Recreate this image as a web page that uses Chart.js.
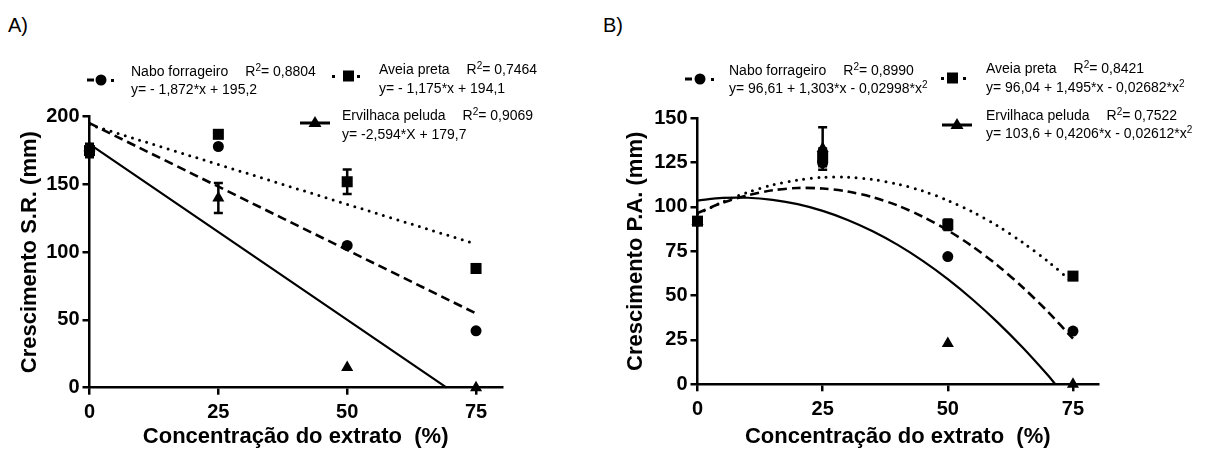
<!DOCTYPE html>
<html>
<head>
<meta charset="utf-8">
<script src="https://cdn.jsdelivr.net/npm/chart.js@4.4.1/dist/chart.umd.min.js"></script>
<style>
  body { margin: 0; background: #fff; width: 1205px; height: 450px; overflow: hidden; position: relative;
         font-family: "Liberation Sans", Arial, sans-serif; color: #000; }
  .panel { position: absolute; top: 0; height: 450px; }
  .tag { position: absolute; top: 14px; font-size: 20px; }
  .leg { position: absolute; font-size: 14px; line-height: 18px; white-space: nowrap; }
  .leg sup { font-size: 10px; line-height: 0; vertical-align: 5px; }
  .leg .r2 { margin-left: 17px; }
  svg.sym { position: absolute; overflow: visible; }
</style>
</head>
<body>

<div class="tag" style="left:8px">A)</div>
<div class="tag" style="left:603px">B)</div>

<div class="panel" style="left:0;width:600px"><canvas id="chartA"></canvas></div>
<div class="panel" style="left:600px;width:605px"><canvas id="chartB"></canvas></div>

<!-- legend A -->
<svg class="sym" style="left:85px;top:72px" width="32" height="16">
  <rect x="2" y="6.5" width="7" height="3"/><circle cx="16" cy="8" r="5.5"/><rect x="26" y="7" width="3" height="3"/>
</svg>
<div class="leg" style="left:131px;top:62px">Nabo forrageiro<span class="r2">R<sup>2</sup>= 0,8804</span></div>
<div class="leg" style="left:131px;top:80px">y= - 1,872*x + 195,2</div>

<svg class="sym" style="left:330px;top:68px" width="32" height="16">
  <rect x="2" y="7" width="3" height="3"/><rect x="13" y="2.5" width="11" height="11"/><rect x="27" y="7" width="3" height="3"/>
</svg>
<div class="leg" style="left:379px;top:60px">Aveia preta<span class="r2">R<sup>2</sup>= 0,7464</span></div>
<div class="leg" style="left:379px;top:79px">y= - 1,175*x + 194,1</div>

<svg class="sym" style="left:300px;top:115px" width="32" height="16">
  <rect x="0" y="6.5" width="30" height="3"/><polygon points="15,1 21.5,12 8.5,12"/>
</svg>
<div class="leg" style="left:342px;top:106px">Ervilhaca peluda<span class="r2">R<sup>2</sup>= 0,9069</span></div>
<div class="leg" style="left:342px;top:125px">y= -2,594*X + 179,7</div>

<!-- legend B -->
<svg class="sym" style="left:683px;top:71px" width="32" height="16">
  <rect x="2" y="6.5" width="7" height="3"/><circle cx="17" cy="8" r="5.5"/><rect x="28" y="7" width="3" height="3"/>
</svg>
<div class="leg" style="left:729px;top:61px">Nabo forrageiro<span class="r2">R<sup>2</sup>= 0,8990</span></div>
<div class="leg" style="left:729px;top:79px">y= 96,61 + 1,303*x - 0,02998*x<sup>2</sup></div>

<svg class="sym" style="left:939px;top:70px" width="32" height="16">
  <rect x="2" y="7" width="3" height="3"/><rect x="8" y="2.5" width="11" height="11"/><rect x="24" y="7" width="3" height="3"/>
</svg>
<div class="leg" style="left:986px;top:59px">Aveia preta<span class="r2">R<sup>2</sup>= 0,8421</span></div>
<div class="leg" style="left:986px;top:78px">y= 96,04 + 1,495*x - 0,02682*x<sup>2</sup></div>

<svg class="sym" style="left:942px;top:117px" width="32" height="16">
  <rect x="0" y="6.5" width="30" height="3"/><polygon points="15,1 21.5,12 8.5,12"/>
</svg>
<div class="leg" style="left:986px;top:106px">Ervilhaca peluda<span class="r2">R<sup>2</sup>= 0,7522</span></div>
<div class="leg" style="left:986px;top:124px">y=  103,6 + 0,4206*x - 0,02612*x<sup>2</sup></div>

<script>
// x categories (extract concentration, %)
const concentracao = [0, 25, 50, 75];
const xTicks = [0, 25, 50, 75];

// Panel A - Crescimento S.R. (mm)
const yTicksA = [0, 50, 100, 150, 200];
const naboA = [175, 178, 105, 42];
const aveiaA = [175, 187, 152, 88];
const ervilhacaA = [177, 140, 15, 0];
const aveiaErrA = [5, 0, 9, 0];
const ervilhacaErrA = [0, 11, 0, 0];
// fitted lines, [x, y] pairs
const naboFitA = [[0, 195.2], [75, 54.8]];
const aveiaFitA = [[0, 194.1], [75, 106]];
const ervilhacaFitA = [[0, 179.7], [69.3, 0]];

// Panel B - Crescimento P.A. (mm)
const yTicksB = [0, 25, 50, 75, 100, 125, 150];
const naboB = [92, 125, 72, 30];
const aveiaB = [92, 128, 90, 61];
const ervilhacaB = [92, 133, 23, 0];
const aveiaErrB = [2, 5, 3, 2];
const ervilhacaErrB = [0, 12, 0, 0];
// fitted curves, x positions and y values
const curveXB = [0, 5, 10, 15, 20, 25, 30, 35, 40, 45, 50, 55, 60, 65, 70, 75];
const naboFitB = [96.6, 102.4, 106.6, 109.4, 110.7, 110.4, 108.7, 105.5, 100.8, 94.5, 86.8, 77.6, 66.9, 54.6, 40.9, 25.7];
const aveiaFitB = [96.0, 102.8, 108.3, 112.4, 115.2, 116.7, 116.8, 115.5, 112.9, 109.0, 103.7, 97.1, 89.2, 79.9, 69.3, 57.3];
const ervilhacaXB = [0, 5, 10, 15, 20, 25, 30, 35, 40, 45, 50, 55, 60, 65, 70, 71.5];
const ervilhacaFitB = [103.6, 105.1, 105.2, 104.0, 101.6, 97.8, 92.7, 86.3, 78.6, 69.6, 59.3, 47.7, 34.8, 20.6, 5.1, 0];

const FONT = '"Liberation Sans", Arial, sans-serif';

function toPoints(xs, ys) {
    return xs.map((x, i) => ({ x: x, y: ys[i] }));
}

// draws vertical error bars for datasets that carry an errorBars array
const errorBarPlugin = {
    id: 'errorBars',
    afterDatasetsDraw(chart) {
        const ctx = chart.ctx;
        const xs = chart.scales.x, ys = chart.scales.y;
        chart.data.datasets.forEach((ds) => {
            if (!ds.errorBars) return;
            ds.data.forEach((p, i) => {
                const e = ds.errorBars[i];
                if (!e) return;
                const px = xs.getPixelForValue(p.x);
                const top = ys.getPixelForValue(p.y + e);
                const bot = ys.getPixelForValue(p.y - e);
                ctx.save();
                ctx.strokeStyle = '#000';
                ctx.lineWidth = 2.5;
                ctx.beginPath();
                ctx.moveTo(px, top); ctx.lineTo(px, bot);
                ctx.moveTo(px - 4.5, top); ctx.lineTo(px + 4.5, top);
                ctx.moveTo(px - 4.5, bot); ctx.lineTo(px + 4.5, bot);
                ctx.stroke();
                ctx.restore();
            });
        });
    }
};

function lineSet(data, style) {
    const ds = {
        data: data, showLine: true, pointRadius: 0, borderColor: '#000',
        borderWidth: 2.2, order: 10, clip: false, tension: 0.3
    };
    if (style === 'dash') { ds.borderDash = [9, 5]; ds.borderWidth = 2.6; }
    if (style === 'dot') { ds.borderDash = [0, 7.5]; ds.borderCapStyle = 'round'; ds.borderWidth = 3; }
    return ds;
}

function pointSet(ys, style, radius, order, errs) {
    return {
        data: toPoints(concentracao, ys), showLine: false, pointStyle: style,
        pointRadius: radius, pointHoverRadius: radius, backgroundColor: '#000',
        borderColor: '#000', pointBorderWidth: 0, order: order, clip: false,
        errorBars: errs
    };
}

function makeChart(id, cfg) {
    const canvas = document.getElementById(id);
    canvas.width = cfg.width;
    canvas.height = 450;
    return new Chart(canvas.getContext('2d'), {
        type: 'scatter',
        data: { datasets: cfg.datasets },
        options: {
            responsive: false,
            animation: false,
            devicePixelRatio: 1,
            layout: { padding: { left: 0, top: cfg.top, right: cfg.right, bottom: 0 } },
            plugins: { legend: { display: false }, tooltip: { enabled: false } },
            scales: {
                x: {
                    type: 'linear', min: 0, max: 80,
                    afterBuildTicks: (s) => { s.ticks = xTicks.map(v => ({ value: v })); },
                    afterFit: (s) => { s.height = cfg.xHeight; },
                    border: { display: true, color: '#000', width: 2.5 },
                    grid: { drawOnChartArea: false, drawTicks: true, tickLength: 7, color: '#000', lineWidth: 2.5 },
                    ticks: { color: '#000', padding: 6, maxRotation: 0, font: { family: FONT, size: 20, weight: 'bold' } },
                    title: {
                        display: true, text: 'Concentração do extrato  (%)', color: '#000',
                        padding: { top: 0, bottom: 0 }, font: { family: FONT, size: 22, weight: 'bold' }
                    }
                },
                y: {
                    type: 'linear', min: 0, max: cfg.yMax,
                    afterBuildTicks: (s) => { s.ticks = cfg.yTicks.map(v => ({ value: v })); },
                    afterFit: (s) => { s.width = cfg.yWidth; },
                    border: { display: true, color: '#000', width: 2.5 },
                    grid: { drawOnChartArea: false, drawTicks: true, tickLength: 7, color: '#000', lineWidth: 2.5 },
                    ticks: { color: '#000', padding: 3, font: { family: FONT, size: 20, weight: 'bold' } },
                    title: {
                        display: true, text: cfg.yTitle, color: '#000',
                        padding: { top: cfg.yTitlePad, bottom: 0 }, font: { family: FONT, size: 22, weight: 'bold' }
                    }
                }
            }
        },
        plugins: [errorBarPlugin]
    });
}

makeChart('chartA', {
    width: 600, top: 116.7, right: 98.2, xHeight: 62.3, yWidth: 89.5,
    yMax: 200, yTicks: yTicksA, yTitle: 'Crescimento S.R. (mm)', yTitlePad: 17,
    datasets: [
        pointSet(aveiaA, 'rect', 7.8, 1, aveiaErrA),
        pointSet(naboA, 'circle', 5.5, 2, null),
        pointSet(ervilhacaA, 'triangle', 7, 3, ervilhacaErrA),
        lineSet(naboFitA.map(p => ({ x: p[0], y: p[1] })), 'dash'),
        lineSet(aveiaFitA.map(p => ({ x: p[0], y: p[1] })), 'dot'),
        lineSet(ervilhacaFitA.map(p => ({ x: p[0], y: p[1] })), 'solid')
    ]
});

makeChart('chartB', {
    width: 605, top: 118.3, right: 107, xHeight: 65.7, yWidth: 97.5,
    yMax: 150, yTicks: yTicksB, yTitle: 'Crescimento P.A. (mm)', yTitlePad: 22.5,
    datasets: [
        pointSet(aveiaB, 'rect', 7.8, 1, aveiaErrB),
        pointSet(naboB, 'circle', 5.5, 2, null),
        pointSet(ervilhacaB, 'triangle', 7, 3, ervilhacaErrB),
        lineSet(toPoints(curveXB, naboFitB), 'dash'),
        lineSet(toPoints(curveXB, aveiaFitB), 'dot'),
        lineSet(toPoints(ervilhacaXB, ervilhacaFitB), 'solid')
    ]
});
</script>
</body>
</html>
